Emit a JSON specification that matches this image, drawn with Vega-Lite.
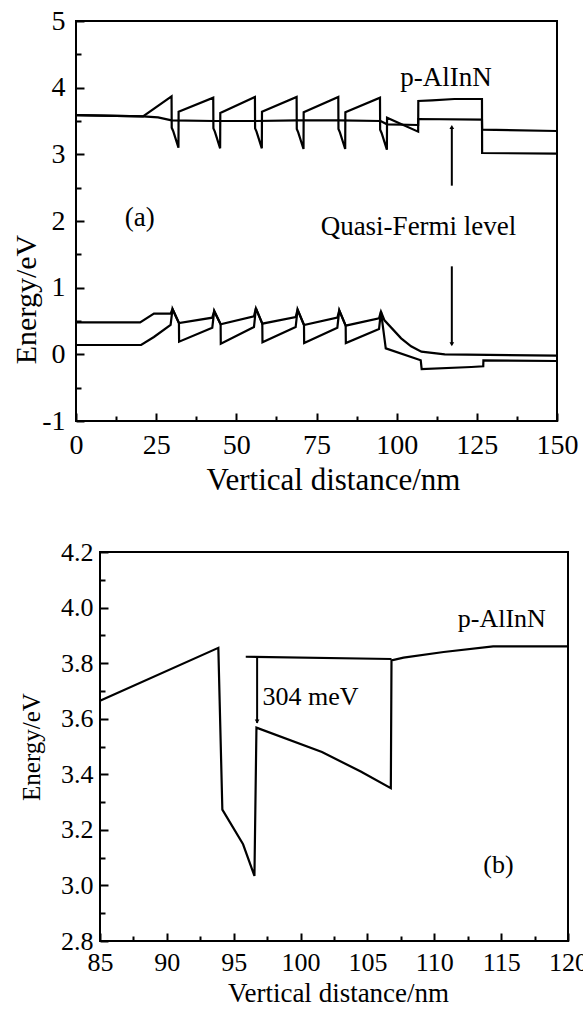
{
  "$schema": "https://vega.github.io/schema/vega-lite/v6.json",
  "background": "white",
  "padding": {"left": 9, "top": 6, "right": 0, "bottom": 0},
  "config": {
    "view": {"stroke": "black", "strokeWidth": 2},
    "font": "Liberation Serif",
    "axis": {"domain": false, "grid": false, "tickColor": "black", "tickWidth": 2, "labelColor": "black", "titleColor": "black", "labelFont": "Liberation Serif", "titleFont": "Liberation Serif", "titleFontWeight": "normal", "labelFlush": false, "labelOverlap": false}
  },
  "datasets": {
    "aLines": [
      {"s":"Ec","x":0,"y":3.588},{"s":"Ec","x":20.9,"y":3.57},{"s":"Ec","x":29.8,"y":3.87},{"s":"Ec","x":29.85,"y":3.40},{"s":"Ec","x":30.3,"y":3.35},{"s":"Ec","x":31.95,"y":3.10},{"s":"Ec","x":32.0,"y":3.64},
      {"s":"Ec","x":42.8,"y":3.85},{"s":"Ec","x":42.85,"y":3.39},{"s":"Ec","x":43.3,"y":3.34},{"s":"Ec","x":44.95,"y":3.09},{"s":"Ec","x":45.0,"y":3.62},
      {"s":"Ec","x":55.8,"y":3.86},{"s":"Ec","x":55.85,"y":3.39},{"s":"Ec","x":56.3,"y":3.34},{"s":"Ec","x":57.95,"y":3.09},{"s":"Ec","x":58.0,"y":3.64},
      {"s":"Ec","x":68.8,"y":3.86},{"s":"Ec","x":68.85,"y":3.38},{"s":"Ec","x":69.3,"y":3.33},{"s":"Ec","x":70.95,"y":3.08},{"s":"Ec","x":71.0,"y":3.63},
      {"s":"Ec","x":81.8,"y":3.86},{"s":"Ec","x":81.85,"y":3.38},{"s":"Ec","x":82.3,"y":3.33},{"s":"Ec","x":83.95,"y":3.08},{"s":"Ec","x":84.0,"y":3.63},
      {"s":"Ec","x":94.8,"y":3.85},{"s":"Ec","x":94.85,"y":3.37},{"s":"Ec","x":95.3,"y":3.32},{"s":"Ec","x":96.95,"y":3.07},{"s":"Ec","x":97.0,"y":3.55},
      {"s":"Ec","x":106.7,"y":3.34},{"s":"Ec","x":106.75,"y":3.80},{"s":"Ec","x":111,"y":3.81},{"s":"Ec","x":118,"y":3.83},{"s":"Ec","x":126.6,"y":3.83},{"s":"Ec","x":126.65,"y":3.02},{"s":"Ec","x":150,"y":3.01},
      {"s":"Efn","x":0,"y":3.588},{"s":"Efn","x":20.9,"y":3.57},{"s":"Efn","x":25.6,"y":3.555},{"s":"Efn","x":29.8,"y":3.51},{"s":"Efn","x":43,"y":3.50},{"s":"Efn","x":56,"y":3.50},{"s":"Efn","x":69,"y":3.51},{"s":"Efn","x":82,"y":3.51},{"s":"Efn","x":95,"y":3.50},{"s":"Efn","x":97,"y":3.45},{"s":"Efn","x":106.7,"y":3.44},{"s":"Efn","x":106.75,"y":3.53},{"s":"Efn","x":126.6,"y":3.52},{"s":"Efn","x":126.65,"y":3.37},{"s":"Efn","x":150,"y":3.35},
      {"s":"U","x":0,"y":0.48},{"s":"U","x":20,"y":0.48},{"s":"U","x":24.3,"y":0.61},{"s":"U","x":29.5,"y":0.61},{"s":"U","x":30.1,"y":0.68},{"s":"U","x":32.1,"y":0.47},{"s":"U","x":42.5,"y":0.55},{"s":"U","x":43.1,"y":0.65},{"s":"U","x":45.1,"y":0.45},{"s":"U","x":55.5,"y":0.57},{"s":"U","x":56.1,"y":0.69},{"s":"U","x":58.1,"y":0.46},{"s":"U","x":68.5,"y":0.56},{"s":"U","x":69.1,"y":0.67},{"s":"U","x":71.1,"y":0.44},{"s":"U","x":81.5,"y":0.55},{"s":"U","x":82.1,"y":0.66},{"s":"U","x":84.1,"y":0.43},{"s":"U","x":94.5,"y":0.54},{"s":"U","x":95.1,"y":0.64},{"s":"U","x":96.2,"y":0.51},{"s":"U","x":101.4,"y":0.24},{"s":"U","x":104.5,"y":0.12},{"s":"U","x":107.7,"y":0.04},{"s":"U","x":115,"y":0.0},{"s":"U","x":150,"y":-0.02},
      {"s":"L","x":0,"y":0.14},{"s":"L","x":20.3,"y":0.14},{"s":"L","x":24.3,"y":0.26},{"s":"L","x":29.5,"y":0.44},{"s":"L","x":30.1,"y":0.68},{"s":"L","x":32.1,"y":0.47},{"s":"L","x":32.15,"y":0.19},{"s":"L","x":42.5,"y":0.40},{"s":"L","x":43.1,"y":0.65},{"s":"L","x":45.1,"y":0.45},{"s":"L","x":45.15,"y":0.16},{"s":"L","x":55.5,"y":0.41},{"s":"L","x":56.1,"y":0.69},{"s":"L","x":58.1,"y":0.46},{"s":"L","x":58.15,"y":0.18},{"s":"L","x":68.5,"y":0.41},{"s":"L","x":69.1,"y":0.67},{"s":"L","x":71.1,"y":0.44},{"s":"L","x":71.15,"y":0.17},{"s":"L","x":81.5,"y":0.40},{"s":"L","x":82.1,"y":0.66},{"s":"L","x":84.1,"y":0.43},{"s":"L","x":84.15,"y":0.17},{"s":"L","x":94.5,"y":0.38},{"s":"L","x":95.1,"y":0.64},{"s":"L","x":96.6,"y":0.09},{"s":"L","x":107.5,"y":-0.09},{"s":"L","x":107.8,"y":-0.22},{"s":"L","x":123.3,"y":-0.19},{"s":"L","x":127.0,"y":-0.18},{"s":"L","x":127.05,"y":-0.09},{"s":"L","x":150,"y":-0.10}
    ],
    "aArrows": [
      {"x":117.2,"y":3.41,"y2":2.53},
      {"x":117.2,"y":1.32,"y2":0.15}
    ],
    "aHeads": [
      {"x":117.2,"y":3.41,"d":"up"},
      {"x":117.2,"y":0.15,"d":"down"}
    ],
    "aText": [
      {"x":115.4,"y":4.03,"t":"p-AlInN"},
      {"x":19.9,"y":1.93,"t":"(a)"},
      {"x":106.8,"y":1.79,"t":"Quasi-Fermi level"}
    ],
    "bLines": [
      {"s":"Ec","x":85,"y":3.665},{"s":"Ec","x":93.85,"y":3.855},{"s":"Ec","x":94.15,"y":3.273},{"s":"Ec","x":95.7,"y":3.148},{"s":"Ec","x":96.55,"y":3.034},{"s":"Ec","x":96.7,"y":3.568},{"s":"Ec","x":101.6,"y":3.48},{"s":"Ec","x":104.5,"y":3.41},{"s":"Ec","x":106.75,"y":3.35},{"s":"Ec","x":106.8,"y":3.81},{"s":"Ec","x":107.7,"y":3.82},{"s":"Ec","x":110.7,"y":3.84},{"s":"Ec","x":114.4,"y":3.86},{"s":"Ec","x":120,"y":3.86},
      {"s":"lvl","x":95.9,"y":3.823},{"s":"lvl","x":106.8,"y":3.815}
    ],
    "bArrows": [
      {"x":96.75,"y":3.82,"y2":3.585}
    ],
    "bHeads": [
      {"x":96.75,"y":3.59,"d":"down"}
    ],
    "bTextC": [
      {"x":115.05,"y":3.93,"t":"p-AlInN"},
      {"x":114.8,"y":3.045,"t":"(b)"}
    ],
    "bTextL": [
      {"x":97.15,"y":3.65,"t":"304 meV"}
    ]
  },
  "vconcat": [
    {
      "spacing": 0,
      "hconcat": [
        {"width": 1, "height": 1, "view": {"stroke": null}, "data": {"values": []}, "mark": {"type": "point", "opacity": 0}, "encoding": {}},
        {
          "width": 481,
          "height": 400,
          "layer": [
            {
              "data": {"name": "aLines"},
              "mark": {"type": "line", "color": "black", "strokeWidth": 2.2},
              "encoding": {
                "x": {"field": "x", "type": "quantitative", "scale": {"domain": [0, 150], "nice": false, "zero": false},
                  "axis": {"orient": "bottom", "values": [0, 25, 50, 75, 100, 125, 150], "tickSize": -8, "labelPadding": 18, "labelFontSize": 28, "title": "Vertical distance/nm", "titleFontSize": 31, "titlePadding": 6, "titleX": 257}},
                "y": {"field": "y", "type": "quantitative", "scale": {"domain": [-1, 5], "nice": false, "zero": false},
                  "axis": {"orient": "left", "values": [-1, 0, 1, 2, 3, 4, 5], "tickSize": -8, "labelPadding": 19, "labelFontSize": 28, "labelExpr": "replace(datum.label, '−', '-')", "title": "Energy/eV", "titleFontSize": 30, "titlePadding": 0, "titleY": 278}},
                "detail": {"field": "s"},
                "order": {"value": null}
              }
            },
            {
              "data": {"name": "aArrows"},
              "mark": {"type": "rule", "color": "black", "strokeWidth": 2},
              "encoding": {
                "x": {"field": "x", "type": "quantitative", "scale": {"domain": [0, 150], "nice": false, "zero": false},
                  "axis": {"orient": "bottom", "values": [12.5, 37.5, 62.5, 87.5, 112.5, 137.5], "tickSize": -5, "labels": false, "title": null}},
                "y": {"field": "y", "type": "quantitative", "scale": {"domain": [-1, 5], "nice": false, "zero": false},
                  "axis": {"orient": "left", "values": [-0.5, 0.5, 1.5, 2.5, 3.5, 4.5], "tickSize": -5, "labels": false, "title": null}},
                "y2": {"field": "y2"}
              }
            },
            {
              "data": {"name": "aHeads"},
              "mark": {"type": "point", "filled": true, "color": "black", "size": 22, "opacity": 1},
              "encoding": {
                "x": {"field": "x", "type": "quantitative", "axis": null},
                "y": {"field": "y", "type": "quantitative", "axis": null},
                "shape": {"field": "d", "type": "nominal", "scale": {"domain": ["up", "down"], "range": ["triangle-up", "triangle-down"]}, "legend": null}
              }
            },
            {
              "data": {"name": "aText"},
              "mark": {"type": "text", "fontSize": 27, "font": "Liberation Serif", "align": "center", "baseline": "alphabetic", "color": "black"},
              "encoding": {
                "x": {"field": "x", "type": "quantitative", "axis": null},
                "y": {"field": "y", "type": "quantitative", "axis": null},
                "text": {"field": "t"}
              }
            }
          ],
          "resolve": {"axis": {"x": "independent", "y": "independent"}}
        }
      ]
    },
    {
      "spacing": 0,
      "hconcat": [
        {"width": 9, "height": 1, "view": {"stroke": null}, "data": {"values": []}, "mark": {"type": "point", "opacity": 0}, "encoding": {}},
        {
          "width": 468,
          "height": 389,
          "layer": [
            {
              "data": {"name": "bLines"},
              "mark": {"type": "line", "color": "black", "strokeWidth": 2.2},
              "encoding": {
                "x": {"field": "x", "type": "quantitative", "scale": {"domain": [85, 120], "nice": false, "zero": false},
                  "axis": {"orient": "bottom", "values": [85, 90, 95, 100, 105, 110, 115, 120], "tickSize": -8, "labelPadding": 16, "labelFontSize": 26, "title": "Vertical distance/nm", "titleFontSize": 27, "titlePadding": 5, "titleX": 238}},
                "y": {"field": "y", "type": "quantitative", "scale": {"domain": [2.8, 4.2], "nice": false, "zero": false},
                  "axis": {"orient": "left", "values": [2.8, 3.0, 3.2, 3.4, 3.6, 3.8, 4.0, 4.2], "format": ".1f", "tickSize": -8, "labelPadding": 15, "labelFontSize": 26, "title": "Energy/eV", "titleFontSize": 25, "titlePadding": 16.5}},
                "detail": {"field": "s"},
                "order": {"value": null}
              }
            },
            {
              "data": {"name": "bArrows"},
              "mark": {"type": "rule", "color": "black", "strokeWidth": 2},
              "encoding": {
                "x": {"field": "x", "type": "quantitative", "scale": {"domain": [85, 120], "nice": false, "zero": false},
                  "axis": {"orient": "bottom", "values": [87.5, 92.5, 97.5, 102.5, 107.5, 112.5, 117.5], "tickSize": -5, "labels": false, "title": null}},
                "y": {"field": "y", "type": "quantitative", "scale": {"domain": [2.8, 4.2], "nice": false, "zero": false},
                  "axis": {"orient": "left", "values": [2.9, 3.1, 3.3, 3.5, 3.7, 3.9, 4.1], "tickSize": -5, "labels": false, "title": null}},
                "y2": {"field": "y2"}
              }
            },
            {
              "data": {"name": "bHeads"},
              "mark": {"type": "point", "filled": true, "color": "black", "size": 22, "opacity": 1},
              "encoding": {
                "x": {"field": "x", "type": "quantitative", "axis": null},
                "y": {"field": "y", "type": "quantitative", "axis": null},
                "shape": {"field": "d", "type": "nominal", "scale": {"domain": ["up", "down"], "range": ["triangle-up", "triangle-down"]}, "legend": null}
              }
            },
            {
              "data": {"name": "bTextC"},
              "mark": {"type": "text", "fontSize": 26, "font": "Liberation Serif", "align": "center", "baseline": "alphabetic", "color": "black"},
              "encoding": {
                "x": {"field": "x", "type": "quantitative", "axis": null},
                "y": {"field": "y", "type": "quantitative", "axis": null},
                "text": {"field": "t"}
              }
            },
            {
              "data": {"name": "bTextL"},
              "mark": {"type": "text", "fontSize": 26, "font": "Liberation Serif", "align": "left", "baseline": "alphabetic", "color": "black"},
              "encoding": {
                "x": {"field": "x", "type": "quantitative", "axis": null},
                "y": {"field": "y", "type": "quantitative", "axis": null},
                "text": {"field": "t"}
              }
            }
          ],
          "resolve": {"axis": {"x": "independent", "y": "independent"}}
        }
      ]
    }
  ],
  "spacing": 42
}
